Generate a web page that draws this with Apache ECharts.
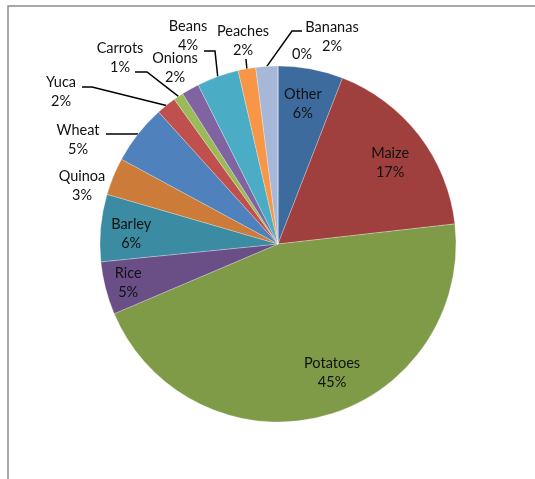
<!DOCTYPE html>
<html>
<head>
<meta charset="utf-8">
<script src="https://cdn.jsdelivr.net/npm/echarts@6/dist/echarts.min.js"></script>
<style>
  html, body { margin: 0; padding: 0; background: #fff; }
  #chart { width: 535px; height: 479px; }
</style>
</head>
<body>
<div id="chart"></div>
<script>
// crops, clockwise from 12 o'clock (last one is the empty 0% point)
const crops = ['Other', 'Maize', 'Potatoes', 'Rice', 'Barley', 'Quinoa', 'Wheat',
  'Yuca', 'Carrots', 'Onions', 'Beans', 'Peaches', 'Bananas', '']
const shares = [5.9, 17.3, 45.4, 4.8, 6.1, 3.4, 5.4, 1.8, 0.9, 1.6, 3.8, 1.6, 2.0, 0]
const colors = ['#3e6b9d', '#a0403e', '#7f9b48', '#6a4f87', '#3b8ca2', '#cc7b38', '#4f81bd',
  '#c0504d', '#9bbb59', '#8064a2', '#4bacc6', '#f79646', '#a6b7d8', '#8a3b39']
// labels that sit inside their slice
const insideNames = ['Other', 'Maize', 'Potatoes', 'Rice', 'Barley']

// where the outside labels sit (text centre) and the bends of their leader lines
const labelSpots = {
  'Quinoa': { x: 82, y: 186 },
  'Wheat': { x: 78, y: 140, line: [[128, 134], [106, 134]] },
  'Yuca': { x: 61, y: 92, line: [[92, 87], [82, 87]] },
  'Carrots': { x: 120, y: 58, line: [[147, 72], [135, 72]] },
  'Onions': { x: 175, y: 68 },
  'Beans': { x: 188, y: 36, line: [[215, 51], [204, 51]] },
  'Peaches': { x: 243, y: 41, line: [[246, 59]] },
  'Bananas': { x: 332, y: 37, line: [[292, 31], [302, 31]] },
  '': { x: 302, y: 54 }
}
// small shifts for the labels inside the slices
const insideNudge = {
  'Other': [-2, 3], 'Maize': [-3, 8], 'Potatoes': [17, -12], 'Barley': [-2, 3], 'Rice': [-9, 3]
}

const chart = echarts.init(document.getElementById('chart'))

const fmt = p => (p.name ? p.name + '\n' : '') + Math.round(p.percent) + '%'
const labelFont = {
  fontFamily: 'Lato', fontSize: 14.5, color: '#111', lineHeight: 19
}
const pieCenter = [278, 244]
const pieR = 178

const outerData = crops.map((name, i) => {
  const inside = insideNames.includes(name)
  return {
    name: name,
    value: shares[i],
    itemStyle: { color: colors[i] },
    label: { show: !inside },
    labelLine: { show: !inside && !!(labelSpots[name] && labelSpots[name].line) }
  }
})

// transparent copy, only to put the inside labels further out (about 0.8 r)
const labelData = crops.map((name, i) => ({
  name: name,
  value: shares[i],
  label: { show: insideNames.includes(name) }
}))

chart.setOption({
  animation: false,
  graphic: [{
    type: 'rect',
    shape: { x: 8, y: 6, width: 700, height: 700 },
    style: { fill: 'none', stroke: '#8c8c8c', lineWidth: 1.5 },
    silent: true
  }],
  series: [
    {
      type: 'pie',
      center: pieCenter,
      radius: pieR,
      startAngle: 90,
      clockwise: true,
      avoidLabelOverlap: false,
      itemStyle: { borderColor: 'rgba(255,255,255,0.5)', borderWidth: 0.5 },
      label: Object.assign({ position: 'outside', formatter: fmt }, labelFont),
      labelLine: { length: 10, length2: 10, lineStyle: { color: '#000', width: 1.5 } },
      labelLayout: params => {
        const spot = labelSpots[crops[params.dataIndex]]
        if (!spot) return {}
        const out = { x: spot.x, y: spot.y, align: 'center', verticalAlign: 'middle' }
        if (spot.line && params.labelLinePoints) {
          out.labelLinePoints = [params.labelLinePoints[0]].concat(spot.line)
        }
        return out
      },
      emphasis: { disabled: true },
      data: outerData
    },
    {
      type: 'pie',
      center: pieCenter,
      radius: pieR * 1.6,
      startAngle: 90,
      clockwise: true,
      silent: true,
      itemStyle: { color: 'rgba(0,0,0,0)' },
      label: Object.assign({ position: 'inside', formatter: fmt }, labelFont),
      labelLine: { show: false },
      labelLayout: params => {
        const nudge = insideNudge[crops[params.dataIndex]]
        if (!nudge) return {}
        const r = params.labelRect
        return {
          x: r.x + r.width / 2 + nudge[0],
          y: r.y + r.height / 2 + nudge[1],
          align: 'center', verticalAlign: 'middle'
        }
      },
      emphasis: { disabled: true },
      data: labelData
    }
  ]
})
</script>
</body>
</html>
